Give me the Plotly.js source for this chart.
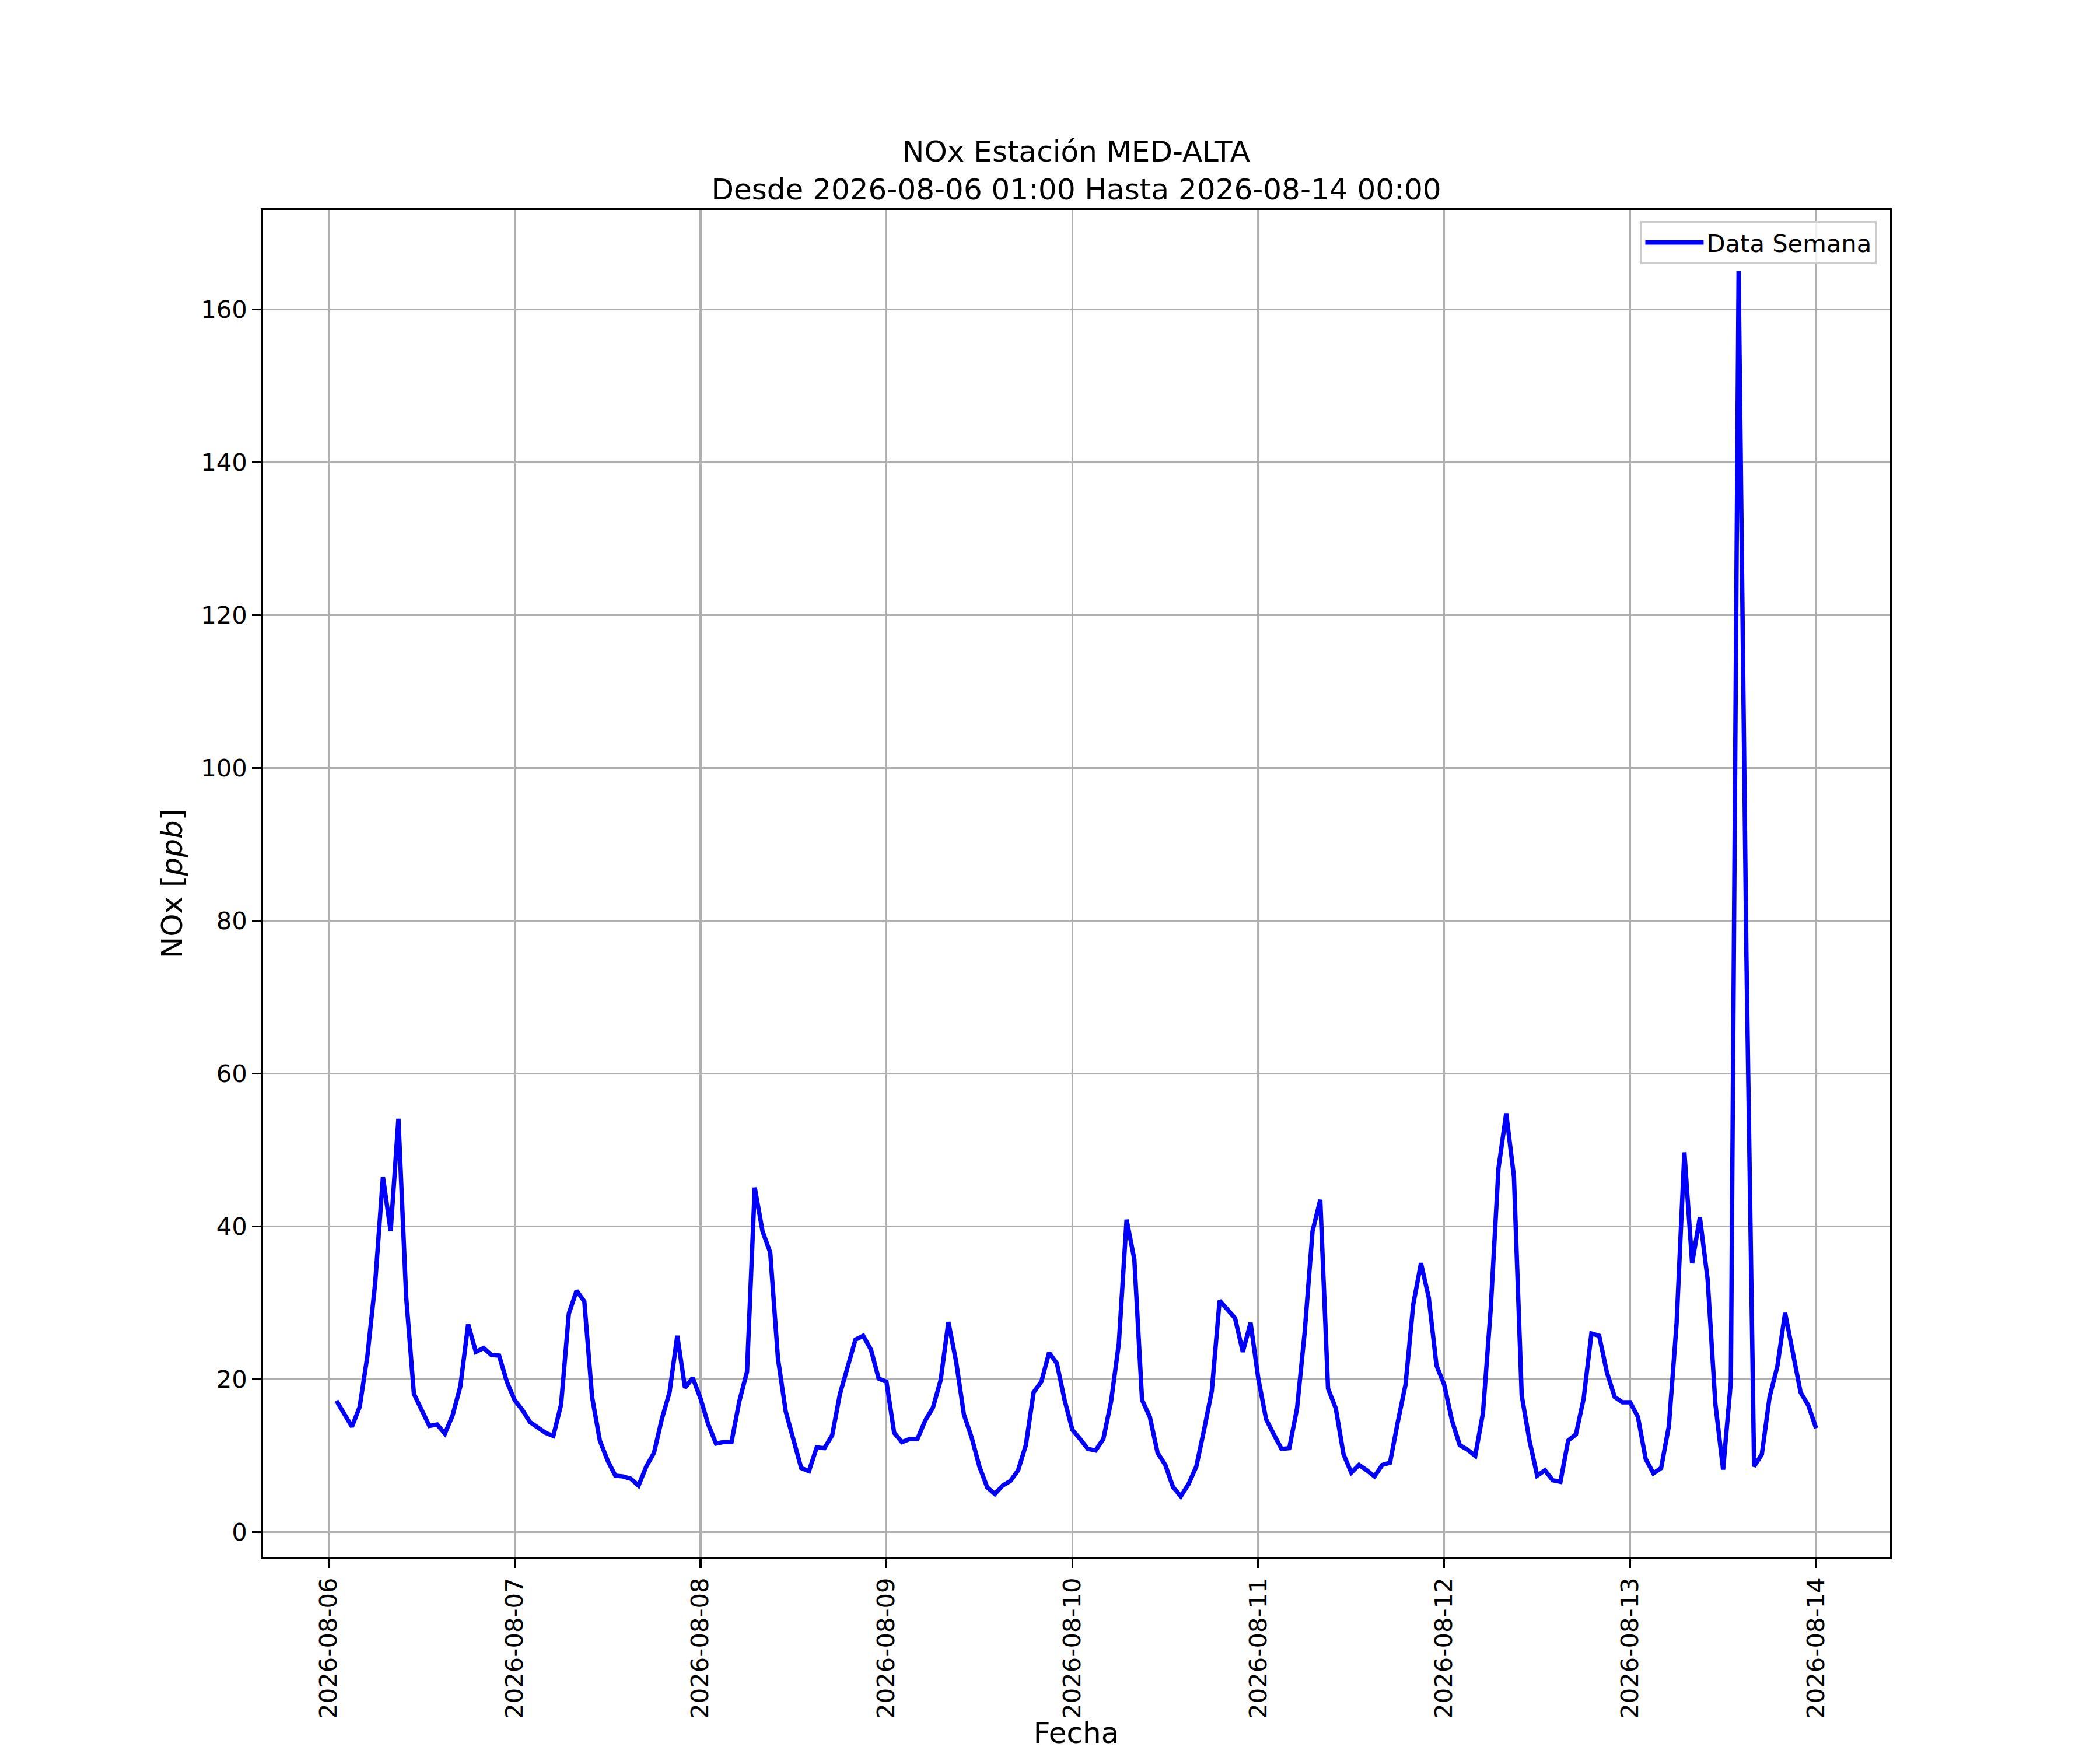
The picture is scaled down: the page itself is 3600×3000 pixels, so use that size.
<!DOCTYPE html>
<html>
<head>
<meta charset="utf-8">
<script src="https://cdn.plot.ly/plotly-3.0.1.min.js"></script>
<style>
  body { margin: 0; background: #fff; }
  #grafico-nox { width: 3600px; height: 3000px; }
</style>
</head>
<body>
<div id="grafico-nox"></div>
<script>
// NOx horario por dia (01:00 ... 24:00)
var nox0806 = [17.2, 15.4, 13.8, 16.4, 23.1, 32.6, 46.5, 39.4, 54.1, 30.8, 18.1, 16.0,
               13.9, 14.1, 12.9, 15.3, 19.1, 27.2, 23.6, 24.1, 23.2, 23.1, 19.7, 17.3];
var nox0807 = [16.0, 14.4, 13.7, 13.0, 12.6, 16.7, 28.6, 31.6, 30.2, 17.7, 12.0, 9.4,
               7.4, 7.3, 7.0, 6.1, 8.6, 10.4, 14.8, 18.3, 25.7, 18.9, 20.2, 17.5];
var nox0808 = [14.1, 11.6, 11.8, 11.8, 17.1, 21.0, 45.1, 39.4, 36.6, 22.7, 15.8, 12.2,
               8.4, 8.0, 11.1, 11.0, 12.7, 18.1, 21.7, 25.2, 25.7, 23.9, 20.1, 19.7];
var nox0809 = [13.0, 11.8, 12.2, 12.2, 14.6, 16.3, 19.9, 27.5, 22.3, 15.4, 12.4, 8.6,
               5.9, 5.0, 6.1, 6.7, 8.1, 11.4, 18.3, 19.7, 23.5, 22.1, 17.3, 13.4];
var nox0810 = [12.2, 10.9, 10.7, 12.2, 17.1, 24.7, 40.9, 35.7, 17.3, 15.1, 10.4, 8.8,
               5.9, 4.7, 6.3, 8.6, 13.4, 18.5, 30.3, 29.2, 28.0, 23.6, 27.4, 20.1];
var nox0811 = [14.8, 12.8, 10.9, 11.0, 16.2, 26.3, 39.4, 43.5, 18.8, 16.2, 10.2, 7.8,
               8.8, 8.1, 7.3, 8.8, 9.1, 14.4, 19.3, 29.8, 35.2, 30.7, 21.8, 19.3];
var nox0812 = [14.6, 11.4, 10.8, 10.0, 15.6, 29.2, 47.6, 54.8, 46.5, 17.9, 12.0, 7.4,
               8.1, 6.8, 6.6, 12.0, 12.8, 17.5, 26.0, 25.7, 20.9, 17.7, 17.0, 17.0];
var nox0813 = [15.1, 9.6, 7.7, 8.4, 13.9, 27.4, 49.7, 35.2, 41.2, 33.1, 16.8, 8.2,
               19.7, 165.0, 76.0, 8.6, 10.2, 17.7, 21.7, 28.7, 23.3, 18.3, 16.6, 13.6];

var dias = ['2026-08-06', '2026-08-07', '2026-08-08', '2026-08-09',
            '2026-08-10', '2026-08-11', '2026-08-12', '2026-08-13'];
var valores = [nox0806, nox0807, nox0808, nox0809, nox0810, nox0811, nox0812, nox0813];

// fechas horarias: cada dia va de 01:00 a 24:00 (00:00 del dia siguiente)
var fechas = [];
var nox = [];
for (var d = 0; d < dias.length; d++) {
  var base = new Date(dias[d] + 'T00:00:00Z').getTime();
  for (var h = 0; h < valores[d].length; h++) {
    var t = new Date(base + (h + 1) * 3600000).toISOString();
    fechas.push(t.slice(0, 10) + ' ' + t.slice(11, 16));
    nox.push(valores[d][h]);
  }
}

var fuente = 'DejaVu Sans, sans-serif';
var pt = 300 / 72;

var dataSemana = {
  x: fechas,
  y: nox,
  name: 'Data Semana',
  type: 'scatter',
  mode: 'lines',
  line: {color: 'rgb(0, 0, 255)', width: 2 * pt * 0.9}
};

var layout = {
  width: 3600,
  height: 3000,
  paper_bgcolor: '#ffffff',
  plot_bgcolor: '#ffffff',
  font: {family: fuente, size: 10 * pt, color: '#000000'},
  margin: {l: 450, r: 360, t: 360, b: 330, pad: 0},
  showlegend: true,
  title: {
    text: 'NOx Estación MED-ALTA<br>Desde 2026-08-06 01:00 Hasta 2026-08-14 00:00',
    font: {family: fuente, size: 12 * pt, color: '#000000'},
    x: 0.5, xref: 'paper', xanchor: 'center',
    y: 1, yref: 'paper', yanchor: 'bottom',
    pad: {b: 83}
  },
  xaxis: {
    type: 'date',
    range: ['2026-08-05 15:27', '2026-08-14 09:33'],
    tick0: '2026-08-06',
    dtick: 86400000,
    tickformat: '%Y-%m-%d',
    tickangle: -90,
    ticks: 'outside',
    ticklen: 3.5 * pt,
    tickwidth: 0.8 * pt,
    tickcolor: '#000000',
    tickfont: {family: fuente, size: 10 * pt},
    showgrid: true,
    gridcolor: '#b0b0b0',
    gridwidth: 0.8 * pt,
    zeroline: false,
    showline: true,
    linecolor: '#000000',
    linewidth: 0.8 * pt,
    mirror: true,
    automargin: false,
    title: {text: 'Fecha', font: {family: fuente, size: 12 * pt}, standoff: 4 * pt}
  },
  yaxis: {
    range: [-3.3, 173.0],
    tick0: 0,
    dtick: 20,
    ticks: 'outside',
    ticklen: 3.5 * pt,
    tickwidth: 0.8 * pt,
    tickcolor: '#000000',
    tickfont: {family: fuente, size: 10 * pt},
    showgrid: true,
    gridcolor: '#b0b0b0',
    gridwidth: 0.8 * pt,
    zeroline: false,
    showline: true,
    linecolor: '#000000',
    linewidth: 0.8 * pt,
    mirror: true,
    automargin: false,
    title: {text: 'NOx [<i>ppb</i>]', font: {family: fuente, size: 12 * pt}, standoff: 4 * pt}
  },
  legend: {
    x: 0.9918, xanchor: 'right',
    y: 0.9918, yanchor: 'top',
    bgcolor: 'rgba(255,255,255,0.8)',
    bordercolor: '#cccccc',
    borderwidth: 0.8 * pt,
    font: {family: fuente, size: 10 * pt},
    itemwidth: 100
  }
};

Plotly.newPlot('grafico-nox', [dataSemana], layout, {staticPlot: true});
</script>
</body>
</html>
